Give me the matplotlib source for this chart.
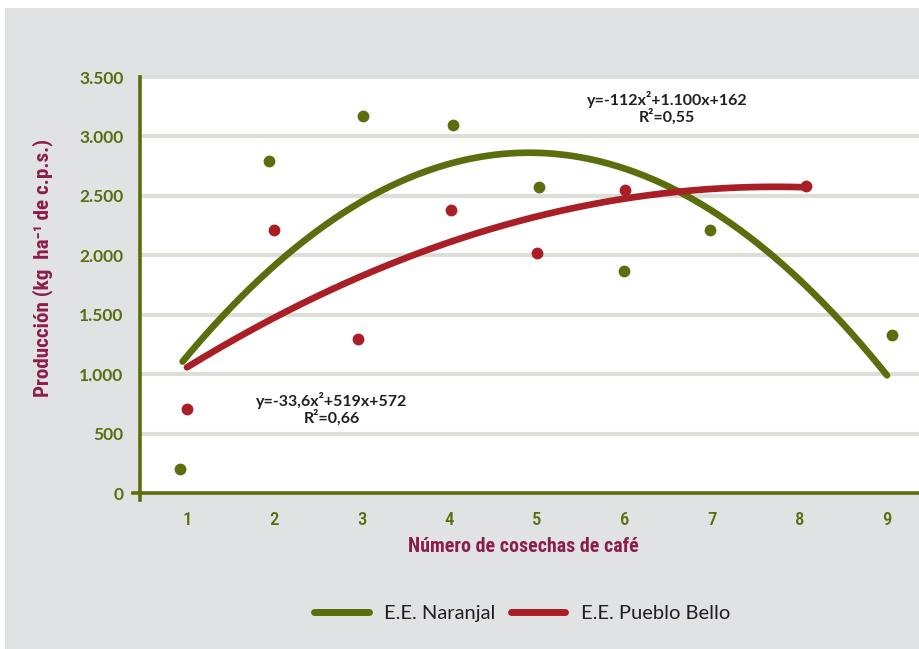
import numpy as np
import matplotlib
matplotlib.use("Agg")
import matplotlib.pyplot as plt
from matplotlib import font_manager
from matplotlib.patches import Rectangle
from matplotlib.lines import Line2D

# ---- data ----
naranjal_x = [0.92, 1.94, 3.01, 4.04, 5.02, 5.99, 6.98, 9.06]
naranjal_y = [200, 2790, 3175, 3100, 2575, 1870, 2215, 1330]
pueblo_x = [1.0, 2.0, 2.96, 4.02, 5.0, 6.01, 8.07]
pueblo_y = [705, 2215, 1295, 2380, 2020, 2550, 2585]
naranjal_coef = [-112, 1100, 162]
pueblo_coef = [-33.6, 519, 572]
naranjal_range = [0.95, 9.0]
pueblo_range = [1.0, 8.07]
xticks = [1, 2, 3, 4, 5, 6, 7, 8, 9]
yticks = [0, 500, 1000, 1500, 2000, 2500, 3000, 3500]
ytick_labels = ["0", "500", "1.000", "1.500", "2.000", "2.500", "3.000", "3.500"]
series_names = ["E.E. Naranjal", "E.E. Pueblo Bello"]
eq_naranjal = "y=-112x²+1.100x+162\nR²=0,55"
eq_pueblo = "y=-33,6x²+519x+572\nR²=0,66"

GREEN = "#5a6e0e"
RED = "#a91f25"
MAROON = "#8b1d4b"
DARK = "#231f20"
BG = "#e1e2e4"

# pick a condensed font if one is installed
installed = {f.name for f in font_manager.fontManager.ttflist}
cond = None
for cand in ["Roboto Condensed", "Open Sans Condensed", "Liberation Sans Narrow",
             "DejaVu Sans Condensed", "Noto Sans Condensed", "Arial Narrow"]:
    if cand in installed:
        cond = cand
        break
if cond is None:
    COND_FAM = ["Roboto", "DejaVu Sans"]
    xl_size, yl_size, tick_size = 13, 13.5, 12
else:
    COND_FAM = [cond, "DejaVu Sans"]
    xl_size, yl_size, tick_size = 14.3, 15.2, 13.5

W, H = 920, 649
fig = plt.figure(figsize=(W / 100, H / 100), dpi=100)
fig.patch.set_facecolor("white")
bgrect = Rectangle((5 / W, 0), 1, (H - 8) / H, transform=fig.transFigure,
                   facecolor=BG, edgecolor="none", zorder=-10)
fig.patches.append(bgrect)

ax = fig.add_axes([140 / W, 156 / H, 1 - 140 / W, 416 / H])
ax.set_zorder(1)
ax.set_facecolor("white")
ax.set_xlim(0.463, 9.377)
ax.set_ylim(0, 3500)

# grid
for v in yticks[1:]:
    ax.axhline(v, color="#dcded8", lw=3.0, zorder=1, clip_on=(v != 3500))

# curves
xs = np.linspace(naranjal_range[0], naranjal_range[1], 300)
ax.plot(xs, np.polyval(naranjal_coef, xs), color=GREEN, lw=4.8,
        solid_capstyle="round", zorder=3)
xs2 = np.linspace(pueblo_range[0], pueblo_range[1], 300)
ax.plot(xs2, np.polyval(pueblo_coef, xs2), color=RED, lw=4.8,
        solid_capstyle="round", zorder=3)

# points
ax.plot(naranjal_x, naranjal_y, "o", color=GREEN, ms=8.5, mec="none", zorder=4)
ax.plot(pueblo_x, pueblo_y, "o", color=RED, ms=8.5, mec="none", zorder=4)

# spines
for s in ["top", "right"]:
    ax.spines[s].set_visible(False)
ax.spines["left"].set_color(GREEN)
ax.spines["left"].set_linewidth(2.6)
ax.spines["left"].set_bounds(-60, 3500)
ax.spines["bottom"].set_color(GREEN)
ax.spines["bottom"].set_linewidth(2.6)
ax.spines["bottom"].set_bounds(0.463 - 7 / 87.5, 9.377)
ax.spines["left"].set_zorder(5)
ax.spines["bottom"].set_zorder(5)

ax.set_xticks(xticks)
ax.set_xticklabels([str(t) for t in xticks])
ax.set_yticks(yticks)
ax.set_yticklabels(ytick_labels)
ax.tick_params(axis="both", length=0, colors=GREEN)
ax.tick_params(axis="y", pad=12)
ax.tick_params(axis="x", pad=13)
for lab in ax.get_yticklabels():
    lab.set_fontfamily(["Lato", "DejaVu Sans"])
    lab.set_fontweight("bold")
    lab.set_fontsize(12.5)
for lab in ax.get_xticklabels():
    lab.set_fontfamily(COND_FAM)
    lab.set_fontweight("medium")
    lab.set_fontsize(tick_size)

ax.set_xlabel("Número de cosechas de café", color=MAROON, fontsize=xl_size,
              family=COND_FAM, fontweight="bold")
ax.xaxis.set_label_coords((523 - 140) / (W - 140), -(546 - 493) / 416)
ax.xaxis.label.set_va("center")
ax.set_ylabel("Producción (kg  ha⁻¹ de c.p.s.)", color=MAROON, fontsize=yl_size,
              family=COND_FAM, fontweight="bold")
ax.yaxis.set_label_coords(-(140 - 43) / (W - 140), (493 - 268) / 416)
ax.yaxis.label.set_va("center")

# equations
ax.text(6.486, 3243, eq_naranjal, ha="center", va="center", fontsize=11.5,
        family=["Lato", "DejaVu Sans"], fontweight="bold", color=DARK,
        linespacing=1.05, zorder=6)
ax.text(2.657, 711, eq_pueblo, ha="center", va="center", fontsize=11.5,
        family=["Lato", "DejaVu Sans"], fontweight="bold", color=DARK,
        linespacing=1.05, zorder=6)

handles = [Line2D([], [], color=GREEN, lw=5, solid_capstyle="round"),
           Line2D([], [], color=RED, lw=5, solid_capstyle="round")]
leg = fig.legend(handles, series_names, loc="center", bbox_to_anchor=(522 / W, 36 / H),
                 ncol=2, frameon=False, handlelength=2.7, handletextpad=0.75,
                 columnspacing=0.8, prop={"family": ["Lato", "DejaVu Sans"], "size": 14.5})
for t in leg.get_texts():
    t.set_color(DARK)

fig.savefig("out.png", dpi=100, facecolor=fig.get_facecolor())
